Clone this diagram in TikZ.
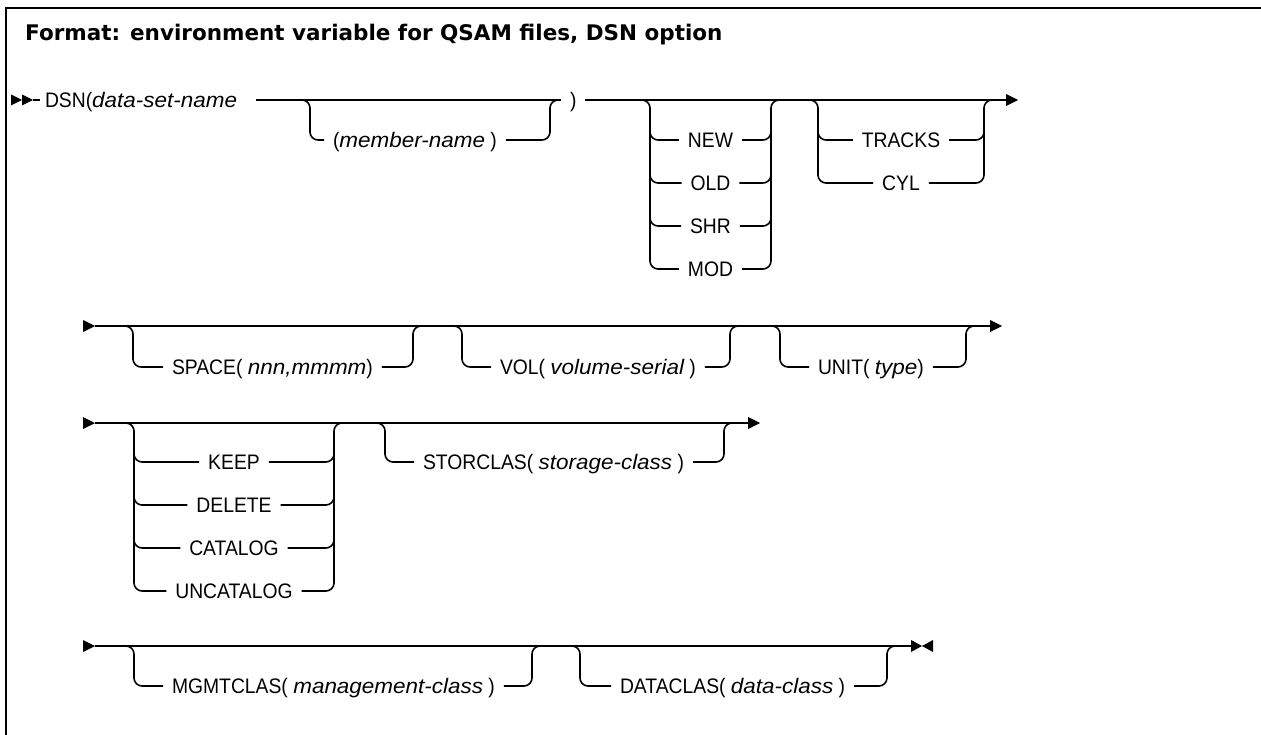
\documentclass[tikz,border=0pt]{standalone}
\usepackage{fontspec}
\setmainfont{Liberation Sans}
\newfontfamily\railfont[FakeStretch=0.92]{Liberation Sans}
\newfontfamily\varfont[FakeStretch=1.07]{Liberation Sans}
\newfontfamily\headfont{DejaVu Sans}
\newcommand{\var}[1]{{\varfont\itshape #1}}
\usetikzlibrary{positioning}

\begin{document}
\begin{tikzpicture}[x=1pt, y=-1pt,
  rail/.style={line width=1.6pt, rounded corners=8pt},
  frame/.style={line width=2.4pt},
  opt/.style={inner sep=0pt, outer sep=9pt, text height=15pt, text depth=0pt, font=\railfont\fontsize{21}{25}\selectfont},
  optw/.style={opt, anchor=west},
  heading/.style={anchor=west, inner sep=0pt, font=\headfont\bfseries\fontsize{21.5}{26}\selectfont}
]
\useasboundingbox (0,0) rectangle (1261,735);
\draw[frame] (6,745) -- (6,8) -- (1270,8);

\node[heading] (title) at (25,35) {Format: environment variable for QSAM files, DSN option};

% row 1
\fill (11,94.5) -- (22,100) -- (11,105.5) -- cycle;
\fill (22,94.5) -- (33,100) -- (22,105.5) -- cycle;
\coordinate (r1a) at (33,100);
\node[optw, outer sep=5pt] (dsn) at (40,100) {DSN(\var{data-set-name}};
\node[optw] (mem) at (324,140) {(\var{member-name} )};
\node[optw] (rpar) at (561,100) {)};
\coordinate (m1l) at (300,100); \coordinate (m1c) at (310,100);
\coordinate (m1d) at (550,100); \coordinate (m1r) at (560,100);
\draw[rail] (r1a) -- (dsn.west);
\draw[rail] ([xshift=14pt]dsn.east) -- (rpar.west);
\draw[rail] (m1l) -- (m1c) |- (mem.west);
\draw[rail] (mem.east) -| (m1d) -- (m1r);

\node[opt] (new) at (710.5,140) {NEW};
\node[opt] (old) at (710.5,183) {OLD};
\node[opt] (shr) at (710.5,226) {SHR};
\node[opt] (mod) at (710.5,269) {MOD};
\coordinate (n1l) at (640,100); \coordinate (n1c) at (650,100); \coordinate (n1v) at (650,120);
\coordinate (n1d) at (771,100); \coordinate (n1r) at (781,100); \coordinate (n1u) at (771,120);
\draw[rail] (n1l) -- (n1c) |- (new.west);
\draw[rail] (n1v) |- (old.west);
\draw[rail] (n1v) |- (shr.west);
\draw[rail] (n1v) |- (mod.west);
\draw[rail] (new.east) -| (n1d) -- (n1r);
\draw[rail] (old.east) -| (n1u);
\draw[rail] (shr.east) -| (n1u);
\draw[rail] (mod.east) -| (n1u);

\node[opt] (tracks) at (901,140) {TRACKS};
\node[opt] (cyl) at (901,183) {CYL};
\coordinate (t1l) at (808,100); \coordinate (t1c) at (818,100); \coordinate (t1v) at (818,120);
\coordinate (t1d) at (984,100); \coordinate (t1r) at (994,100); \coordinate (t1u) at (984,120);
\draw[rail] (t1l) -- (t1c) |- (tracks.west);
\draw[rail] (t1v) |- (cyl.west);
\draw[rail] (tracks.east) -| (t1d) -- (t1r);
\draw[rail] (cyl.east) -| (t1u);

\coordinate (e1) at (1006,100);
\draw[rail] (rpar.east) -- (e1);
\fill (1006,94) -- (1018,100) -- (1006,106) -- cycle;

% row 2
\fill (83,320) -- (95,326) -- (83,332) -- cycle;
\coordinate (r2a) at (95,326); \coordinate (e2) at (990,326);
\draw[rail] (r2a) -- (e2);
\fill (990,320) -- (1002,326) -- (990,332) -- cycle;
\node[optw] (space) at (163,367) {SPACE( \var{nnn,mmmm})};
\node[optw] (vol) at (491,367) {VOL( \var{volume-serial} )};
\node[optw] (unit) at (809,367) {UNIT( \var{type})};
\coordinate (s2l) at (123,326); \coordinate (s2c) at (133,326);
\coordinate (s2d) at (413,326); \coordinate (s2r) at (423,326);
\coordinate (v2l) at (452,326); \coordinate (v2c) at (462,326);
\coordinate (v2d) at (730,326); \coordinate (v2r) at (740,326);
\coordinate (u2l) at (770,326); \coordinate (u2c) at (780,326);
\coordinate (u2d) at (966,326); \coordinate (u2r) at (976,326);
\draw[rail] (s2l) -- (s2c) |- (space.west);
\draw[rail] (space.east) -| (s2d) -- (s2r);
\draw[rail] (v2l) -- (v2c) |- (vol.west);
\draw[rail] (vol.east) -| (v2d) -- (v2r);
\draw[rail] (u2l) -- (u2c) |- (unit.west);
\draw[rail] (unit.east) -| (u2d) -- (u2r);

% row 3
\fill (83,417) -- (95,423) -- (83,429) -- cycle;
\coordinate (r3a) at (95,423); \coordinate (e3) at (748,423);
\draw[rail] (r3a) -- (e3);
\fill (748,417) -- (760,423) -- (748,429) -- cycle;
\node[opt] (keep) at (234,462) {KEEP};
\node[opt] (delete) at (234,505) {DELETE};
\node[opt] (catalog) at (234,548) {CATALOG};
\node[opt] (uncatalog) at (234,591) {UNCATALOG};
\coordinate (k3l) at (124,423); \coordinate (k3c) at (134,423); \coordinate (k3v) at (134,443);
\coordinate (k3d) at (334,423); \coordinate (k3r) at (344,423); \coordinate (k3u) at (334,443);
\draw[rail] (k3l) -- (k3c) |- (keep.west);
\draw[rail] (k3v) |- (delete.west);
\draw[rail] (k3v) |- (catalog.west);
\draw[rail] (k3v) |- (uncatalog.west);
\draw[rail] (keep.east) -| (k3d) -- (k3r);
\draw[rail] (delete.east) -| (k3u);
\draw[rail] (catalog.east) -| (k3u);
\draw[rail] (uncatalog.east) -| (k3u);
\node[optw] (storclas) at (414,462) {STORCLAS( \var{storage-class} )};
\coordinate (c3l) at (375,423); \coordinate (c3c) at (385,423);
\coordinate (c3d) at (724,423); \coordinate (c3r) at (734,423);
\draw[rail] (c3l) -- (c3c) |- (storclas.west);
\draw[rail] (storclas.east) -| (c3d) -- (c3r);

% row 4
\fill (83,640) -- (95,646) -- (83,652) -- cycle;
\coordinate (r4a) at (95,646); \coordinate (e4) at (911,646);
\draw[rail] (r4a) -- (e4);
\fill (911,640) -- (922,646) -- (911,652) -- cycle;
\fill (933,640) -- (922,646) -- (933,652) -- cycle;
\node[optw] (mgmtclas) at (163,686) {MGMTCLAS( \var{management-class} )};
\node[optw] (dataclas) at (611,686) {DATACLAS( \var{data-class} )};
\coordinate (g4l) at (124,646); \coordinate (g4c) at (134,646);
\coordinate (g4d) at (532,646); \coordinate (g4r) at (542,646);
\coordinate (d4l) at (570,646); \coordinate (d4c) at (580,646);
\coordinate (d4d) at (887,646); \coordinate (d4r) at (897,646);
\draw[rail] (g4l) -- (g4c) |- (mgmtclas.west);
\draw[rail] (mgmtclas.east) -| (g4d) -- (g4r);
\draw[rail] (d4l) -- (d4c) |- (dataclas.west);
\draw[rail] (dataclas.east) -| (d4d) -- (d4r);
\end{tikzpicture}
\end{document}
